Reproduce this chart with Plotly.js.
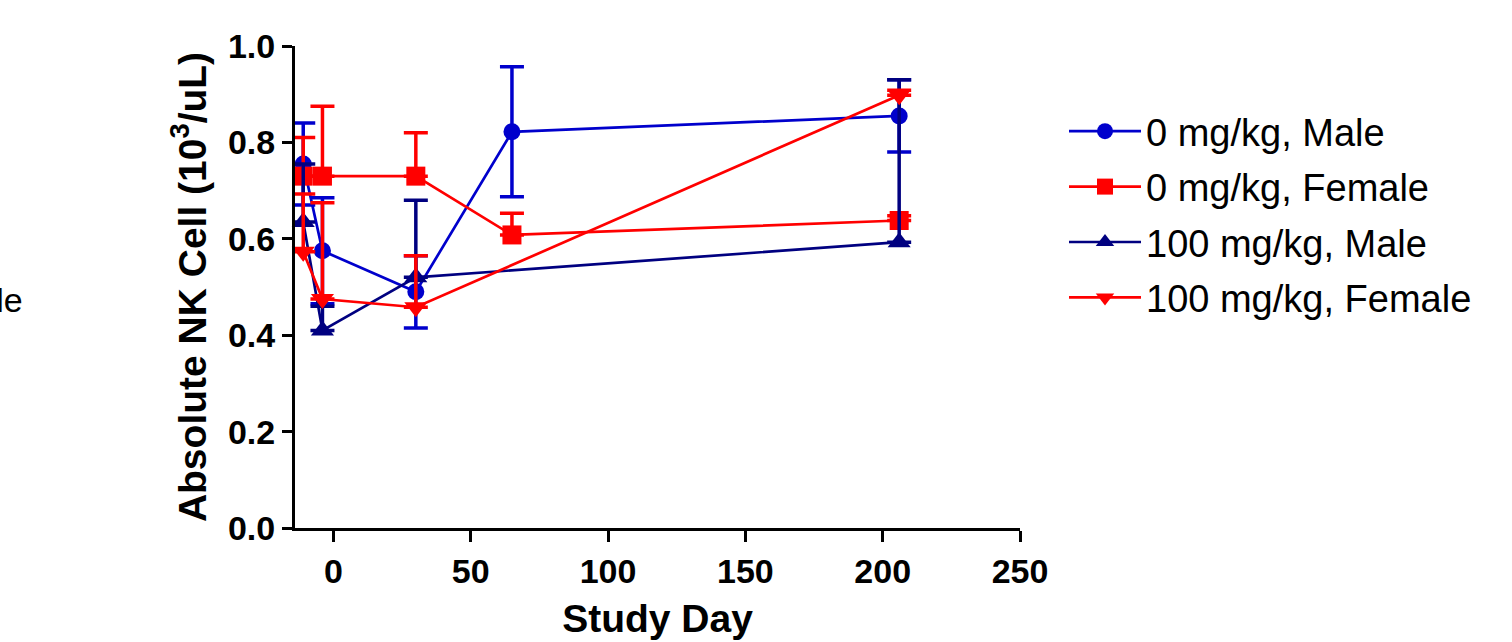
<!DOCTYPE html>
<html>
<head>
<meta charset="utf-8">
<script src="https://cdn.plot.ly/plotly-3.0.1.min.js"></script>
<style>
  html, body { margin: 0; padding: 0; background: #ffffff; }
  #chart { width: 1512px; height: 642px; }
</style>
</head>
<body>
<div id="chart"></div>
<script>
// ---- data ----
const seriesNames = ["0 mg/kg, Male", "0 mg/kg, Female", "100 mg/kg, Male", "100 mg/kg, Female"];

const daysControl = [-11, -4, 30, 65, 206];
const daysHigh = [-11, -4, 30, 206];

const maleCtrlMean = [0.755, 0.575, 0.49, 0.822, 0.855];
const maleCtrlErr  = [0.085, 0.11, 0.075, 0.135, 0.075];

const femaleCtrlMean = [0.73, 0.73, 0.73, 0.608, 0.638];
const femaleCtrlErr  = [0.08, 0.145, 0.09, 0.045, 0.01];

const maleHighMean = [0.635, 0.41, 0.52, 0.593];
const maleHighErr  = [0.12, 0.05, 0.16, 0.337];

const femaleHighMean = [0.573, 0.475, 0.458, 0.898];
const femaleHighErr  = [0.12, 0.2, 0.107, 0.01];

const xTicks = [0, 50, 100, 150, 200, 250];
const yTicks = [0.0, 0.2, 0.4, 0.6, 0.8, 1.0];
const yTickText = ["0.0", "0.2", "0.4", "0.6", "0.8", "1.0"];

// ---- styling ----
const FONT = "'Liberation Sans', Arial, Helvetica, sans-serif";
const BLUE = "#0000CC";
const NAVY = "#000080";
const RED = "#FF0000";

function zeros(n) { return new Array(n).fill(0); }

function trace(name, x, y, err, color, symbol, size, symmetric, group) {
  const e = {type: "data", array: err, color: color, thickness: 3.5, width: 12, visible: true};
  if (symmetric) { e.symmetric = true; } else { e.symmetric = false; e.arrayminus = zeros(err.length); }
  return {
    type: "scatter", mode: "lines+markers", name: name, x: x, y: y,
    legendgroup: group,
    line: {color: color, width: 2.7},
    marker: {color: color, symbol: symbol, size: size, line: {width: 0}},
    error_y: e,
    cliponaxis: false
  };
}

const data = [
  trace(seriesNames[0], daysControl, maleCtrlMean, maleCtrlErr, BLUE, "circle", 17, true, "g1"),
  trace(seriesNames[1], daysControl, femaleCtrlMean, femaleCtrlErr, RED, "square", 19, false, "g2"),
  trace(seriesNames[2], daysHigh, maleHighMean, maleHighErr, NAVY, "triangle-up", 20, false, "g3"),
  trace(seriesNames[3], daysHigh, femaleHighMean, femaleHighErr, RED, "triangle-down", 20, false, "g4")
];

const L = 295, R = 492, T = 46, B = 114;
const plotW = 1512 - L - R;

const layout = {
  width: 1512, height: 642,
  margin: {l: L, r: R, t: T, b: B, pad: 0},
  paper_bgcolor: "#ffffff", plot_bgcolor: "#ffffff",
  font: {family: FONT, color: "#000000"},
  showlegend: true,
  legend: {
    x: (1064 - L) / plotW, y: (528 - 100) / 482, xanchor: "left", yanchor: "top",
    font: {family: FONT, size: 38, color: "#000000"},
    bgcolor: "rgba(0,0,0,0)", borderwidth: 0,
    traceorder: "grouped", tracegroupgap: 3,
    itemwidth: 72
  },
  xaxis: {
    range: [-14, 250], tickvals: xTicks, ticktext: xTicks.map(String),
    showgrid: false, zeroline: false,
    showline: true, linecolor: "#000000", linewidth: 3,
    ticks: "outside", ticklen: 11, tickwidth: 3, tickcolor: "#000000",
    tickfont: {family: FONT, size: 34, color: "#000000", weight: "bold"},
    title: {text: "<b>Study Day</b>", font: {family: FONT, size: 39, color: "#000000"}, standoff: 16},
    fixedrange: true
  },
  yaxis: {
    range: [0, 1], tickvals: yTicks, ticktext: yTickText,
    showgrid: false, zeroline: false,
    showline: true, linecolor: "#000000", linewidth: 3,
    ticks: "outside", ticklen: 10, tickwidth: 3, tickcolor: "#000000",
    tickfont: {family: FONT, size: 34, color: "#000000", weight: "bold"},
    title: {text: "<b>Absolute NK Cell (10<sup>3</sup>/uL)</b>", font: {family: FONT, size: 39, color: "#000000"}, standoff: 10},
    fixedrange: true
  },
  annotations: [
    {text: "Male", xref: "paper", yref: "paper", x: (25 - L) / plotW, y: (528 - 300) / 482,
     xanchor: "right", yanchor: "middle", showarrow: false,
     font: {family: FONT, size: 34, color: "#000000"}}
  ]
};

Plotly.newPlot("chart", data, layout, {displayModeBar: false, staticPlot: true});
</script>
</body>
</html>
